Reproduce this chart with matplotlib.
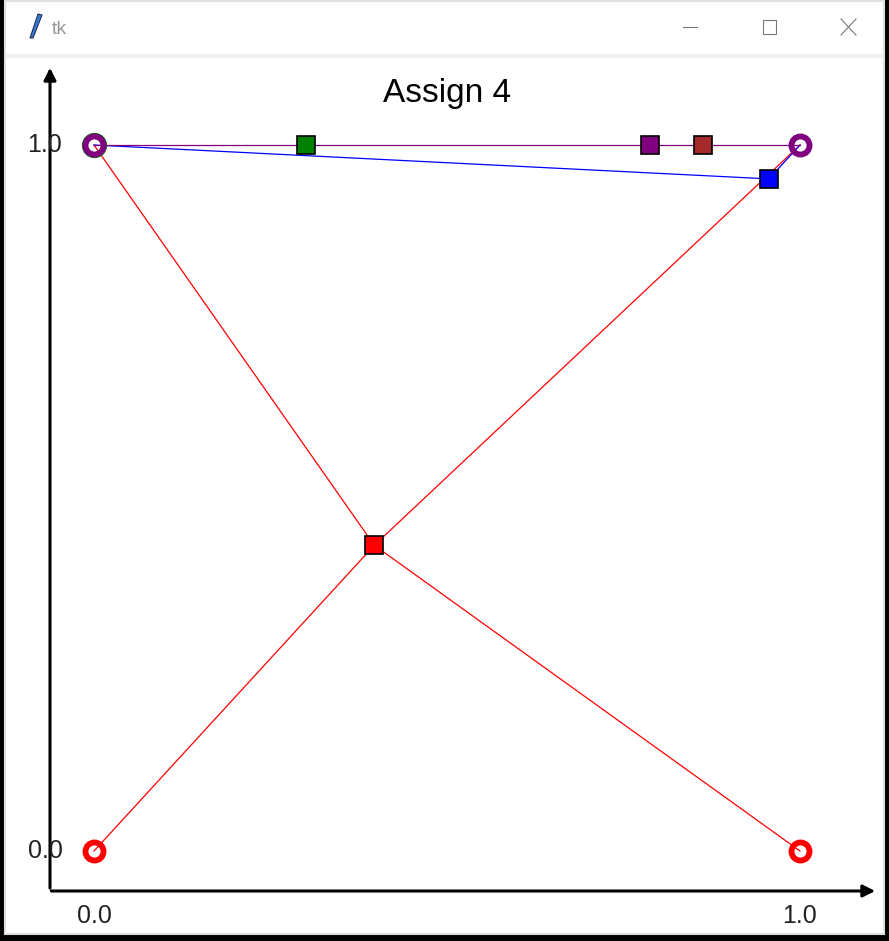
import matplotlib
matplotlib.use('Agg')
import matplotlib.pyplot as plt
from matplotlib.patches import Rectangle, Polygon
from matplotlib.lines import Line2D

plt.rcParams['font.family'] = ['Liberation Sans', 'DejaVu Sans']

# nodes at the corners (ring markers)
corner_x = [0.0, 0.0, 1.0, 0.0, 1.0]
corner_y = [1.0, 1.0, 1.0, 0.0, 0.0]
corner_colors = ['green', 'purple', 'purple', 'red', 'red']

# square markers
square_x = [0.397, 0.300, 0.788, 0.863, 0.956]
square_y = [0.433, 1.0, 1.0, 1.0, 0.952]
square_colors = ['red', 'green', 'purple', 'brown', 'blue']

# edges: (x list, y list, color)
edges = [
    ([0.0, 0.397], [1.0, 0.433], 'red'),
    ([0.0, 0.397], [0.0, 0.433], 'red'),
    ([1.0, 0.397], [0.0, 0.433], 'red'),
    ([0.397, 1.0], [0.433, 1.0], 'red'),
    ([0.0, 0.956, 1.0], [1.0, 0.952, 1.0], 'blue'),
    ([0.0, 1.0], [1.0, 1.0], 'purple'),
]

tick_vals = [0.0, 1.0]
tick_labels = ['0.0', '1.0']
title = 'Assign 4'

W, H = 889, 941
fig = plt.figure(figsize=(W / 100, H / 100), dpi=100)
fig.patch.set_facecolor('white')

def fx(px):
    return px / W

def fy(py):
    return 1 - py / H

# data axes: x 0 -> px 94, 1 -> px 800 ; y 1 -> px 144, 0 -> px 851
s = 706.0
ax = fig.add_axes([0, 0, 1, 1])
ax.set_zorder(5)
ax.set_xlim(-94 / s, (W - 94) / s)
ax.set_ylim((851 - H) / s, 851 / s)
ax.axis('off')

for xs, ys, c in edges:
    ax.plot(xs, ys, color=c, lw=0.9, zorder=2)

for x, y, c in zip(corner_x, corner_y, corner_colors):
    ms = 14 if c == 'green' else 13
    ax.plot(x, y, 'o', ms=ms, mfc='none', mec=c, mew=4.2, zorder=3)

for x, y, c in zip(square_x, square_y, square_colors):
    ax.plot(x, y, 's', ms=13, mfc=c, mec='black', mew=1.2, zorder=4)

# axis arrows
ax_x0 = (50 - 94) / s
ax_y0 = (851 - 891) / s
ax.annotate('', xy=(ax_x0, (851 - 65) / s), xytext=(ax_x0, ax_y0),
            arrowprops=dict(arrowstyle='-|>', color='black', lw=2.2, mutation_scale=18))
ax.annotate('', xy=((878 - 94) / s, ax_y0), xytext=(ax_x0 - 0.002, ax_y0),
            arrowprops=dict(arrowstyle='-|>', color='black', lw=2.2, mutation_scale=18))

for v, lab in zip(tick_vals, tick_labels):
    ax.text((45 - 94) / s, v, lab, ha='center', va='center', fontsize=18, color='#222222')
    ax.text(v, (851 - 916) / s, lab, ha='center', va='center', fontsize=18, color='#222222')

ax.text(0.5, (851 - 94) / s, title, ha='center', va='center', fontsize=24, color='black')

# window chrome
fig.add_artist(Rectangle((fx(0), fy(941)), fx(4), 1, color='black', zorder=0))
fig.add_artist(Rectangle((fx(0), fy(941)), 1, 6 / H, color='black', zorder=0))
fig.add_artist(Rectangle((fx(885), fy(941)), fx(4), 1, color='black', zorder=0))
fig.add_artist(Rectangle((fx(5), fy(934)), fx(879), 933 / H, facecolor='white',
                         edgecolor='#e0e0e0', lw=1.5, zorder=0.5))
fig.add_artist(Line2D([fx(8), fx(881)], [fy(56), fy(56)], color='#f0f0f0', lw=3))
fig.add_artist(Polygon([(fx(30), fy(38)), (fx(38), fy(14)), (fx(42), fy(15)), (fx(33), fy(38))],
                       closed=True, facecolor='#3a78d8', edgecolor='#223355', lw=0.8))
fig.text(fx(52), fy(29), 'tk', fontsize=14, color='#999999', va='center')
fig.add_artist(Line2D([fx(683), fx(697)], [fy(27), fy(27)], color='#777777', lw=0.8))
fig.add_artist(Rectangle((fx(763), fy(34)), 13 / W, 14 / H, facecolor='none',
                         edgecolor='#777777', lw=0.8))
fig.add_artist(Line2D([fx(841), fx(856)], [fy(19), fy(35)], color='#777777', lw=0.8))
fig.add_artist(Line2D([fx(841), fx(856)], [fy(35), fy(19)], color='#777777', lw=0.8))

fig.savefig('out.png', dpi=100)
